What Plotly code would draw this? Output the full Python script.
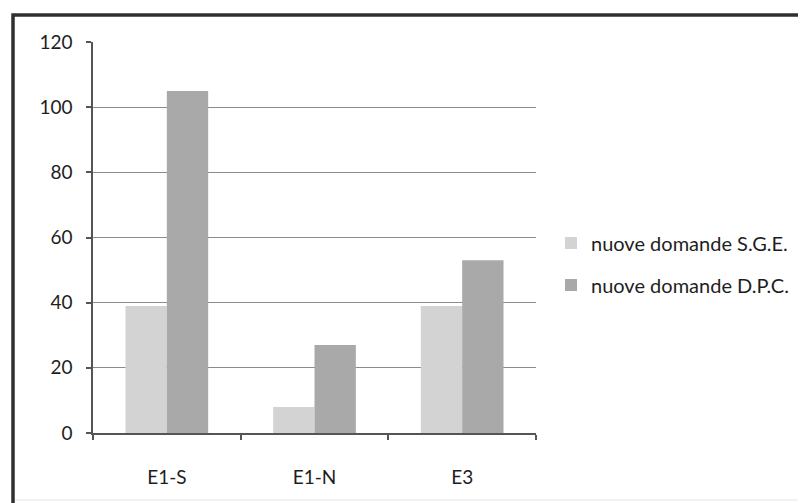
import plotly.graph_objects as go

categories = ["E1-S", "E1-N", "E3"]
series_names = ["nuove domande S.G.E.", "nuove domande D.P.C."]
sge_values = [39, 8, 39]
dpc_values = [105, 27, 53]
y_ticks = [0, 20, 40, 60, 80, 100, 120]

colors = ["#d3d3d3", "#a9a9a9"]
FONT = "Lato"
TXT = "#1e1e1e"

fig = go.Figure()
for name, vals, col, grp in zip(series_names, [sge_values, dpc_values], colors, ["a", "b"]):
    fig.add_trace(go.Bar(
        x=categories, y=vals, name=name, legendgroup=grp,
        marker=dict(color=col, line=dict(width=0)),
    ))

# page offset (body margin) compensation
OFF = 8
W, H = 806, 503
# plot area in screen px: x 93..536, y 42..433
L, R, T, B = 93 - OFF, 536 - OFF, 42 - OFF, 433 - OFF
pw, ph = R - L, B - T

def px(xs):
    return (xs - OFF - L) / pw

def py(ys):
    return (B - (ys - OFF)) / ph

fig.update_layout(
    width=W, height=H,
    margin=dict(l=L, r=W - R, t=T, b=H - B, pad=0),
    paper_bgcolor="white", plot_bgcolor="white",
    barmode="group", bargap=0.44, bargroupgap=0,
    font=dict(family=FONT, size=19, color=TXT),
    legend=dict(
        x=px(551), y=py(264), xanchor="left", yanchor="middle",
        font=dict(family=FONT, size=20, color=TXT),
        itemwidth=30, tracegroupgap=13, traceorder="grouped",
        bgcolor="rgba(0,0,0,0)",
    ),
    showlegend=True,
    shapes=[
        dict(type="rect", xref="paper", yref="paper",
             x0=px(13), y0=py(530), x1=px(840), y1=py(15),
             line=dict(color="#303030", width=3.5), layer="above"),
        dict(type="line", xref="paper", yref="paper",
             x0=px(15), y0=py(500), x1=px(806), y1=py(500),
             line=dict(color="#e6e6e6", width=1)),
    ],
)

fig.update_xaxes(
    type="category", showline=True, linecolor="#555555", linewidth=1.5,
    ticks="outside", tickson="boundaries", ticklen=5, tickcolor="#555555",
    tickwidth=1.5, ticklabelstandoff=26, showgrid=False,
    tickfont=dict(family=FONT, size=19, color=TXT),
)
fig.update_yaxes(
    range=[0, 120], tickvals=y_ticks, showline=True, linecolor="#555555",
    linewidth=1.5, ticks="outside", ticklen=5, tickcolor="#555555",
    tickwidth=1.5, ticklabelstandoff=10, showgrid=True, gridcolor="#8c8c8c",
    gridwidth=1.3, zeroline=False,
    tickfont=dict(family=FONT, size=19, color=TXT),
)

fig.write_html("out.html")
